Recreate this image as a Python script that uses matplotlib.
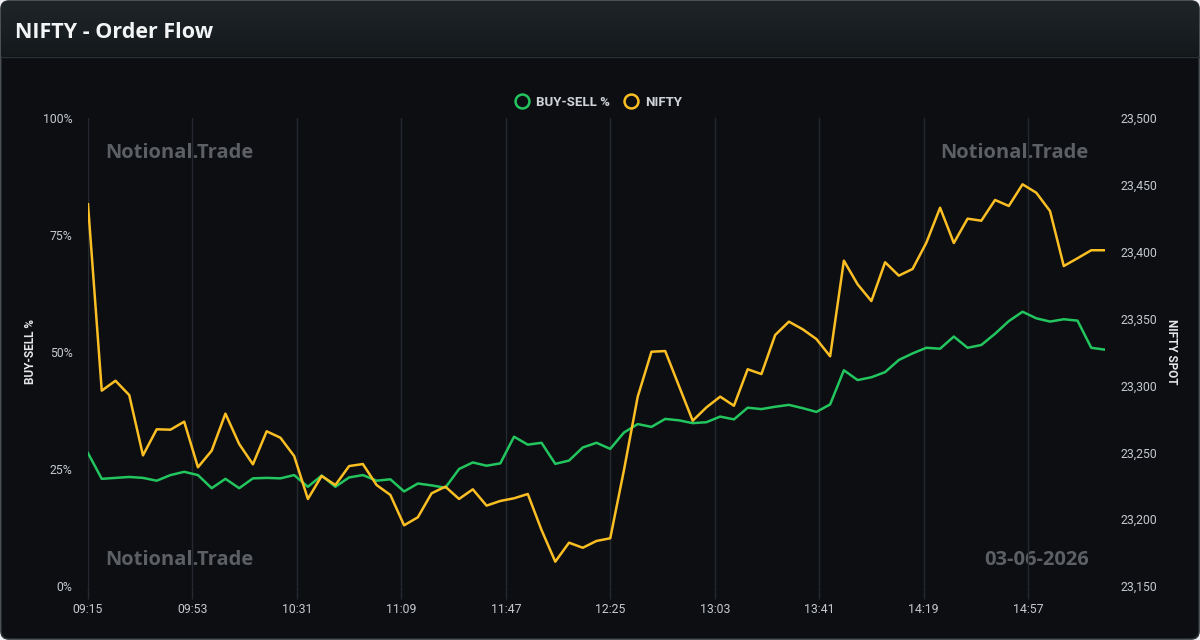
import numpy as np
import matplotlib
matplotlib.use("Agg")
import matplotlib.pyplot as plt
from matplotlib.patches import FancyBboxPatch
from matplotlib.ticker import FuncFormatter, FixedLocator

# data: 5-minute snapshots from 09:15 to 15:25
start_min = 9 * 60 + 15
minutes = np.arange(0, 375, 5)

buy_sell_pct = [28.4, 22.9, 23.1, 23.3, 23.1, 22.5, 23.7, 24.4, 23.7, 20.9,
                22.9, 20.9, 23.0, 23.1, 23.0, 23.7, 21.2, 23.6, 21.2, 23.2,
                23.7, 22.5, 22.8, 20.2, 21.9, 21.5, 21.0, 25.0, 26.4, 25.7,
                26.2, 31.9, 30.2, 30.6, 26.1, 26.8, 29.6, 30.6, 29.3, 32.8,
                34.6, 34.0, 35.7, 35.4, 34.8, 35.0, 36.2, 35.6, 38.1, 37.8,
                38.3, 38.7, 38.0, 37.2, 38.8, 46.1, 44.0, 44.6, 45.7, 48.3,
                49.7, 50.9, 50.7, 53.3, 50.9, 51.5, 53.9, 56.6, 58.6, 57.2,
                56.5, 57.0, 56.7, 50.9, 50.5]

nifty_spot = [23435.5, 23296.1, 23303.5, 23292.8, 23247.7, 23267.2, 23266.9, 23272.9, 23238.8, 23251.2,
              23278.9, 23256.2, 23241.0, 23265.7, 23260.9, 23247.2, 23215.1, 23232.3, 23225.5, 23239.7,
              23241.2, 23225.5, 23218.1, 23195.4, 23201.4, 23219.3, 23224.3, 23215.1, 23222.3, 23210.1,
              23213.6, 23215.6, 23218.8, 23191.9, 23168.2, 23182.4, 23178.6, 23183.7, 23185.7, 23236.8,
              23291.6, 23325.2, 23325.7, 23299.6, 23273.6, 23283.6, 23291.6, 23284.8, 23312.1, 23308.5,
              23337.7, 23347.7, 23342.0, 23334.7, 23321.8, 23393.3, 23375.6, 23363.1, 23392.1, 23382.1,
              23387.1, 23406.7, 23432.9, 23406.5, 23424.7, 23423.2, 23438.7, 23434.2, 23450.4, 23444.1,
              23430.4, 23389.3, 23395.1, 23401.1, 23401.1]

tick_minutes = list(range(0, 343, 38))
tick_labels = ["%02d:%02d" % divmod(start_min + m, 60) for m in tick_minutes]

GREEN = "#22c55e"
AMBER = "#fbbf24"
BG = "#0c0e12"
TICK_COL = "#c5c9cf"
GRID_COL = "#25282e"

W, H = 1200, 640
fig = plt.figure(figsize=(12, 6.4), dpi=100, facecolor="#eef0f2")

# card background with rounded corners
bg_ax = fig.add_axes([0, 0, 1, 1])
bg_ax.set_xlim(0, W)
bg_ax.set_ylim(H, 0)
bg_ax.axis("off")
card = FancyBboxPatch((1, 1), W - 2, H - 2, boxstyle="round,pad=0,rounding_size=8",
                      facecolor=BG, edgecolor="#2b3035", linewidth=1.2)
bg_ax.add_patch(card)
grad = np.linspace(0, 1, 56).reshape(-1, 1)
header = bg_ax.imshow(grad, extent=(1, W - 1, 56, 1), aspect="auto",
                      cmap=matplotlib.colors.LinearSegmentedColormap.from_list("hdr", ["#1e2528", "#14191c"]),
                      zorder=2)
header.set_clip_path(card)
bg_ax.plot([1, W - 1], [56.5, 56.5], color="#2a3135", lw=1, zorder=3)
bg_ax.text(15, 32.5, "NIFTY - Order Flow", color="#f2f4f5", fontsize=15.5, fontweight="bold",
           family="Open Sans", va="center", ha="left", zorder=4)

# watermarks
wm = dict(color="#5c5f63", fontsize=14.5, fontweight="bold", family="Open Sans", va="center", zorder=1)
bg_ax.text(105, 153, "Notional.Trade", ha="left", **wm)
bg_ax.text(1089, 153, "Notional.Trade", ha="right", **wm)
bg_ax.text(105, 560, "Notional.Trade", ha="left", **wm)
bg_ax.text(1089, 560, "03-06-2026", ha="right", **wm)

# main plot
x0, x1, y0, y1 = 88, 1105, 118, 586
ax = fig.add_axes([x0 / W, 1 - y1 / H, (x1 - x0) / W, (y1 - y0) / H])
ax.set_facecolor("none")
ax2 = ax.twinx()

ax.plot(minutes, buy_sell_pct, color=GREEN, lw=1.8, zorder=3)
ax2.plot(minutes, nifty_spot, color=AMBER, lw=1.8, zorder=3)

ax.set_xlim(minutes[0], minutes[-1])
ax.set_ylim(0, 100)
ax2.set_ylim(23150, 23500)

ax.xaxis.set_major_locator(FixedLocator(tick_minutes))
ax.set_xticklabels(tick_labels)
ax.set_yticks([0, 25, 50, 75, 100])
ax.yaxis.set_major_formatter(FuncFormatter(lambda v, p: "%d%%" % v))
ax2.set_yticks(np.arange(23150, 23501, 50))
ax2.yaxis.set_major_formatter(FuncFormatter(lambda v, p: "{:,.0f}".format(v)))

ax.grid(axis="x", color=GRID_COL, lw=1)
ax.set_axisbelow(True)
for a in (ax, ax2):
    for s in a.spines.values():
        s.set_visible(False)

ax.tick_params(axis="x", colors=GRID_COL, length=9, width=1, pad=3, labelcolor=TICK_COL, labelsize=8.8)
ax.tick_params(axis="y", length=0, pad=11, labelcolor=TICK_COL, labelsize=8.8)
ax2.tick_params(axis="y", length=0, pad=11, labelcolor=TICK_COL, labelsize=8.8)
for lab in ax.get_xticklabels() + ax.get_yticklabels() + ax2.get_yticklabels():
    lab.set_family("Roboto")

ax.set_ylabel("BUY-SELL %", color="#e4e6e9", fontsize=8.5, family="Roboto", fontweight="bold", va="center")
ax.yaxis.set_label_coords((30 - x0) / (x1 - x0), 0.5)
ax2.set_ylabel("NIFTY SPOT", color="#e4e6e9", fontsize=8.5, family="Roboto", fontweight="bold",
               rotation=270, va="center")
ax2.yaxis.set_label_coords((1171 - x0) / (x1 - x0), 0.5)

# legend with hollow circles
h1, = ax.plot([], [], ls="none", marker="o", ms=10, mfc="none", mec=GREEN, mew=1.8)
h2, = ax.plot([], [], ls="none", marker="o", ms=10, mfc="none", mec=AMBER, mew=1.8)
leg = fig.legend([h1, h2], ["BUY-SELL %", "NIFTY"], loc="center", bbox_to_anchor=(598 / W, 1 - 102 / H),
                 ncol=2, frameon=False, handletextpad=0.45, columnspacing=1.0, handlelength=1.2,
                 prop={"family": "Roboto", "size": 9.5, "weight": "bold"})
for t in leg.get_texts():
    t.set_color("#cfd2d7")

fig.savefig("out.png", dpi=100, facecolor=fig.get_facecolor())
